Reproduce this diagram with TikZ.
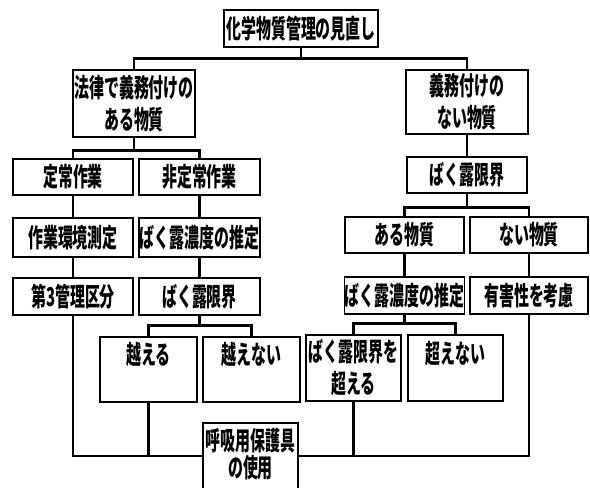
\documentclass[tikz,border=0pt]{standalone}
\usepackage{fontspec}
\newfontfamily\jpfont[FakeStretch=0.575]{Noto Sans CJK JP Black}
\begin{document}
\begin{tikzpicture}[x=1pt,y=-1pt,
  box/.style={draw=black,line width=1.2pt,fill=white,inner sep=0pt,align=center,
    font=\jpfont\fontsize{26}{32}\selectfont},
  conn/.style={draw=black,line width=2.8pt}]
\useasboundingbox (0,0) rectangle (590,488);
\clip (0,0) rectangle (590,488);
\fill[white] (0,0) rectangle (590,488);
\coordinate (bus) at (0,456);
% boxes
\node[box,minimum width=154,minimum height=37] (top) at (301,28.5) {化学物質管理の見直し};
\node[box,minimum width=122,minimum height=67] (law) at (134,103.5) {法律で義務付けの\\ある物質};
\node[box,minimum width=122,minimum height=64] (nolaw) at (467,102) {義務付けの\\ない物質};
\node[box,minimum width=120,minimum height=36] (teijo) at (73,177) {定常作業};
\node[box,minimum width=121,minimum height=36] (hiteijo) at (199.5,177) {非定常作業};
\node[box,minimum width=120,minimum height=39] (sagyo) at (73,237.5) {作業環境測定};
\node[box,minimum width=121,minimum height=39] (bakuroA) at (199.5,237.5) {ばく露濃度の推定};
\node[box,minimum width=120,minimum height=37] (dai3) at (73,296.5) {第3管理区分};
\node[box,minimum width=121,minimum height=37] (genkaiA) at (199.5,296.5) {ばく露限界};
\node[box,minimum width=97,minimum height=65] (koeru) at (148.5,369.5) {越える\\ \mbox{}};
\node[box,minimum width=97,minimum height=65] (koenai) at (251.5,369.5) {越えない\\ \mbox{}};
\node[box,minimum width=120,minimum height=36] (genkaiB) at (467,175) {ばく露限界};
\node[box,minimum width=119,minimum height=36] (aru) at (404.5,235) {ある物質};
\node[box,minimum width=118,minimum height=36] (nai) at (529,235) {ない物質};
\node[box,minimum width=119,minimum height=37] (bakuroB) at (404.5,295.5) {ばく露濃度の推定};
\node[box,minimum width=118,minimum height=37] (yugai) at (529,295.5) {有害性を考慮};
\node[box,minimum width=95,minimum height=66] (koeruB) at (353.5,368) {ばく露限界を\\超える};
\node[box,minimum width=95,minimum height=66] (koenaiB) at (455.5,368) {超えない\\ \mbox{}};
\node[box,minimum width=95,minimum height=87,font=\jpfont\fontsize{26}{27}\selectfont] (kokyu) at (250.5,466.5) {呼吸用保護具\\の使用\\ \mbox{}};
% connectors
\draw[conn] (top.south) -- ++(0,11) -| (law.north);
\draw[conn] (top.south) -- ++(0,11) -| (nolaw.north);
\draw[conn] (law.south) -- ++(0,13) -| (teijo.north);
\draw[conn] (law.south) -- ++(0,13) -| (hiteijo.north);
\draw[conn] (teijo.south) -- (sagyo.north);
\draw[conn] (sagyo.south) -- (dai3.north);
\draw[conn] (hiteijo.south) -- (bakuroA.north);
\draw[conn] (bakuroA.south) -- (genkaiA.north);
\draw[conn] (genkaiA.south) -- ++(0,10) -| (koeru.north);
\draw[conn] (genkaiA.south) -- ++(0,10) -| (koenai.north);
\draw[conn] (dai3.south) |- (kokyu.west |- bus);
\draw[conn] (koeru.south) -- (koeru.south |- bus);
\draw[conn] (nolaw.south) -- (genkaiB.north);
\draw[conn] (genkaiB.south) -- ++(0,14) -| (aru.north);
\draw[conn] (genkaiB.south) -- ++(0,14) -| (nai.north);
\draw[conn] (aru.south) -- (bakuroB.north);
\draw[conn] (nai.south) -- (yugai.north);
\draw[conn] (bakuroB.south) -- ++(0,9) -| (koeruB.north);
\draw[conn] (bakuroB.south) -- ++(0,9) -| (koenaiB.north);
\draw[conn] (koeruB.south) -- (koeruB.south |- bus);
\draw[conn] (yugai.south) |- (kokyu.east |- bus);
\end{tikzpicture}
\end{document}
